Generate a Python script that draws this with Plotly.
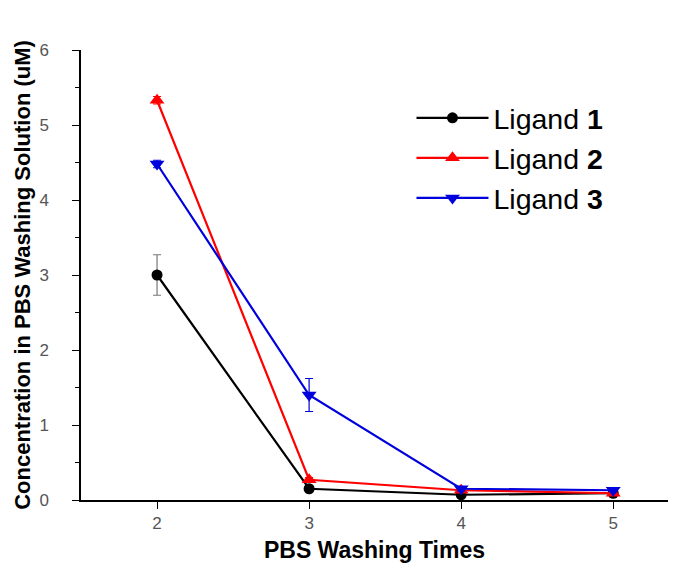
import plotly.graph_objects as go

washes = [2, 3, 4, 5]
ligand1 = [3.00, 0.15, 0.07, 0.09]
ligand1_err = [0.27, 0.03, 0.02, 0.02]
ligand2 = [5.33, 0.27, 0.13, 0.09]
ligand2_err = [0.05, 0.03, 0.02, 0.02]
ligand3 = [4.48, 1.40, 0.15, 0.13]
ligand3_err = [0.05, 0.22, 0.03, 0.02]

series = [
    ("Ligand <b>1</b>", ligand1, ligand1_err, "black", "circle", 11, "#777777"),
    ("Ligand <b>2</b>", ligand2, ligand2_err, "red", "triangle-up", 13, "red"),
    ("Ligand <b>3</b>", ligand3, ligand3_err, "#0000dd", "triangle-down", 13, "#0000dd"),
]

fig = go.Figure()
for name, ys, err, col, sym, sz, ecol in series:
    fig.add_trace(go.Scatter(
        x=washes, y=ys, name=name, mode="lines+markers",
        line=dict(color=col, width=2.2),
        marker=dict(symbol=sym, size=sz, color=col),
        error_y=dict(type="data", array=err, visible=True, color=ecol, thickness=1.2, width=4),
    ))

tickfont = dict(family="Liberation Sans Narrow, Arial Narrow, Liberation Sans", size=17, color="#555555")

fig.update_layout(
    width=681, height=564,
    margin=dict(l=81, r=13, t=50, b=64),
    plot_bgcolor="white", paper_bgcolor="white",
    font=dict(family="Liberation Sans, Arial", color="black"),
    showlegend=True,
    legend=dict(x=0.563, y=0.905, xanchor="left", yanchor="top",
                font=dict(size=28.5, color="black"), bgcolor="rgba(0,0,0,0)",
                tracegroupgap=0, itemwidth=72),
    xaxis=dict(range=[1.5, 5.36], tickvals=[2, 3, 4, 5], showgrid=False, zeroline=False,
               showline=True, linecolor="black", linewidth=1.5, automargin=False,
               ticks="outside", ticklen=7, tickcolor="black",
               tickfont=tickfont,
               title=dict(text="<b>PBS Washing Times</b>", font=dict(size=23), standoff=10)),
    yaxis=dict(range=[0, 6], tickvals=[0, 1, 2, 3, 4, 5, 6], showgrid=False, zeroline=False,
               showline=True, linecolor="black", linewidth=1.5, automargin=False,
               ticks="outside", ticklen=7, tickcolor="black",
               minor=dict(ticks="outside", ticklen=4, dtick=0.5, tickcolor="black"),
               tickfont=tickfont, ticklabelstandoff=20,
               title=dict(text="<b>Concentration in PBS Washing Solution (uM)</b>", font=dict(size=22), standoff=3)),
)

fig.write_html("out.html")
